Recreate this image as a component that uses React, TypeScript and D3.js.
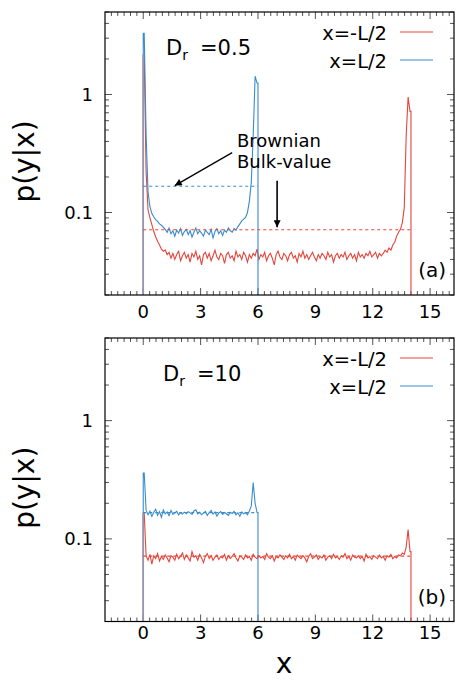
import React from "react";
import * as d3 from "d3";

// ---------- data ----------
const BIN = 0.1; // bin width; values are at bin centres 0.05, 0.15, ...
const lengthLeft = 14; // x=-L/2 curve extent
const lengthRight = 6; // x=L/2 curve extent
const bulkLeft = 0.0714;
const bulkRight = 0.1667;

// panel (a): Dr = 0.5
const redA = [
  2.16, 0.22, 0.105, 0.09, 0.079, 0.069, 0.062, 0.057, 0.053, 0.049,
  0.047, 0.048, 0.044, 0.046, 0.041,
  0.045, 0.040, 0.044, 0.047, 0.039, 0.043, 0.046, 0.041, 0.044, 0.038,
  0.045, 0.042, 0.047, 0.040, 0.043, 0.036, 0.044, 0.046, 0.041, 0.045,
  0.039, 0.043, 0.048, 0.042, 0.040, 0.045, 0.043, 0.037, 0.044, 0.046,
  0.041, 0.043, 0.039, 0.047, 0.042, 0.044, 0.040, 0.046, 0.043, 0.038,
  0.044, 0.041, 0.045, 0.043, 0.049, 0.040, 0.044, 0.042, 0.046, 0.039,
  0.043, 0.045, 0.041, 0.036, 0.044, 0.047, 0.042, 0.040, 0.045, 0.043,
  0.039, 0.044, 0.046, 0.041, 0.043, 0.038, 0.045, 0.042, 0.047, 0.041,
  0.044, 0.040, 0.043, 0.046, 0.042, 0.039, 0.044, 0.041, 0.045, 0.043,
  0.040, 0.046, 0.042, 0.044, 0.038, 0.043, 0.045, 0.041, 0.044, 0.042,
  0.046, 0.040, 0.043, 0.045, 0.041, 0.044, 0.039, 0.046, 0.042, 0.044,
  0.041, 0.045, 0.043, 0.047, 0.042, 0.044, 0.046, 0.041, 0.045, 0.043,
  0.045, 0.048, 0.046, 0.050, 0.048, 0.053, 0.056, 0.063, 0.068, 0.072,
  0.082, 0.11, 0.45, 0.95, 0.72,
];
const blueA = [
  3.3, 0.45, 0.15, 0.112, 0.098, 0.092, 0.087, 0.084, 0.080, 0.078,
  0.075,
  0.072, 0.068, 0.074, 0.066, 0.070, 0.063, 0.071, 0.067, 0.073, 0.064,
  0.069, 0.072, 0.065, 0.070, 0.062, 0.068, 0.074, 0.066, 0.070, 0.067,
  0.063, 0.071, 0.068, 0.065, 0.072, 0.061, 0.069, 0.073, 0.066, 0.070,
  0.064, 0.071, 0.068, 0.074, 0.070, 0.068, 0.073, 0.071, 0.076, 0.080,
  0.085, 0.088, 0.091, 0.10, 0.125, 0.18, 0.45, 1.43, 1.25,
];

// panel (b): Dr = 10
const redB = [
  0.165, 0.072,
  0.066, 0.074, 0.061, 0.072, 0.068, 0.075, 0.065, 0.071, 0.067, 0.073,
  0.069, 0.064, 0.072, 0.070, 0.066, 0.074, 0.068, 0.071, 0.076, 0.067,
  0.073, 0.069, 0.065, 0.078, 0.070, 0.072, 0.066, 0.074, 0.069, 0.063,
  0.071, 0.075, 0.068, 0.072, 0.066, 0.070, 0.073, 0.067, 0.071, 0.069,
  0.074, 0.066, 0.072, 0.068, 0.071, 0.075, 0.069, 0.065, 0.072, 0.070,
  0.067, 0.073, 0.069, 0.071, 0.066, 0.074, 0.070, 0.068, 0.072, 0.069,
  0.071, 0.067, 0.075, 0.070, 0.068, 0.072, 0.065, 0.071, 0.069, 0.073,
  0.070, 0.067, 0.072, 0.069, 0.074, 0.068, 0.071, 0.066, 0.073, 0.070,
  0.068, 0.072, 0.069, 0.064, 0.071, 0.075, 0.068, 0.070, 0.073, 0.067,
  0.071, 0.069, 0.073, 0.066, 0.070, 0.072, 0.068, 0.074, 0.069, 0.071,
  0.067, 0.072, 0.070, 0.075, 0.068, 0.071, 0.066, 0.073, 0.070, 0.069,
  0.072, 0.068, 0.071, 0.065, 0.074, 0.069, 0.071, 0.067, 0.072, 0.070,
  0.068, 0.073, 0.069, 0.071, 0.066, 0.072, 0.070, 0.074, 0.068, 0.071,
  0.069, 0.073, 0.072, 0.076, 0.074, 0.085, 0.12, 0.078,
];
const blueB = [
  0.36, 0.175,
  0.160, 0.172, 0.155, 0.168, 0.178, 0.158, 0.170, 0.152, 0.175, 0.163,
  0.169, 0.157, 0.174, 0.161, 0.166, 0.171, 0.159, 0.167, 0.162, 0.168,
  0.164, 0.170, 0.166, 0.161, 0.172, 0.176, 0.163, 0.168, 0.160, 0.165,
  0.171, 0.158, 0.167, 0.174, 0.162, 0.169, 0.156, 0.165, 0.170, 0.161,
  0.167, 0.163, 0.158, 0.168, 0.164, 0.171, 0.160, 0.166, 0.155, 0.169,
  0.163, 0.167, 0.160, 0.172, 0.19, 0.30, 0.20, 0.167,
];

const xMajorTicks = [0, 3, 6, 9, 12, 15];
const yMajorTicks = [0.1, 1];
const yTickLabels = ["0.1", "1"];
const legendLabels = ["x=-L/2", "x=L/2"];
const drValues = ["0.5", "10"];
const panelTags = ["(a)", "(b)"];
const annotationLines = ["Brownian", "Bulk-value"];

// ---------- styling / layout ----------
const W = 455;
const H = 685;
const FONT = "DejaVu Sans, sans-serif";
const RED = "#e6453b";
const BLUE = "#398ccb";
const OVERLAP = "#9a94b2";
const X_DOMAIN: [number, number] = [-2, 16.25];
const Y_DOMAIN: [number, number] = [0.02, 5];
const LEFT = 105;
const RIGHT = 454;

const panels = [
  { top: 12, bottom: 295, red: redA, blue: blueA, dr: drValues[0], tag: panelTags[0], drX: 166, drDx: 34, tickLabelY: 318 },
  { top: 338, bottom: 621.5, red: redB, blue: blueB, dr: drValues[1], tag: panelTags[1], drX: 163, drDx: 34, tickLabelY: 639 },
];

function buildSeries(vals: number[], len: number): [number, number][] {
  const pts: [number, number][] = [[0, Y_DOMAIN[0]], [0, vals[0]]];
  vals.forEach((v, i) => pts.push([BIN / 2 + i * BIN, v]));
  pts.push([len, vals[vals.length - 1]]);
  pts.push([len, Y_DOMAIN[0]]);
  return pts;
}

function Panel({ p, idx }: { p: (typeof panels)[number]; idx: number }) {
  const x = d3.scaleLinear().domain(X_DOMAIN).range([LEFT, RIGHT]);
  const y = d3.scaleLog().domain(Y_DOMAIN).range([p.bottom, p.top]);
  const line = d3
    .line<[number, number]>()
    .x((d) => x(d[0]))
    .y((d) => y(Math.max(d[1], Y_DOMAIN[0])));

  const redPts = buildSeries(p.red, lengthLeft);
  const bluePts = buildSeries(p.blue, lengthRight);
  const clipId = `clip-${idx}`;

  const xMinor = d3
    .range(-6, 50)
    .map((k) => k / 3)
    .filter((v) => v > X_DOMAIN[0] && v < X_DOMAIN[1] && Math.abs(v / 3 - Math.round(v / 3)) > 1e-6);
  const yMinor: number[] = [];
  for (let d = -2; d <= 0; d++) {
    for (let m = 2; m <= 9; m++) {
      const v = m * Math.pow(10, d);
      if (v >= Y_DOMAIN[0] && v <= Y_DOMAIN[1]) yMinor.push(v);
    }
  }
  const tickColor = "#555";
  const MAJ = 7;
  const MIN = 4;

  const overlapTop = Math.min(p.red[0], p.blue[0]);

  return (
    <g>
      <defs>
        <clipPath id={clipId}>
          <rect x={LEFT} y={p.top} width={RIGHT - LEFT} height={p.bottom - p.top} />
        </clipPath>
      </defs>
      {/* ticks */}
      <g stroke={tickColor} strokeWidth={1}>
        {xMajorTicks.map((t) => (
          <g key={`xM${t}`}>
            <line x1={x(t)} x2={x(t)} y1={p.bottom} y2={p.bottom - MAJ} />
            <line x1={x(t)} x2={x(t)} y1={p.top} y2={p.top + MAJ} />
          </g>
        ))}
        {xMinor.map((t, i) => (
          <g key={`xm${i}`}>
            <line x1={x(t)} x2={x(t)} y1={p.bottom} y2={p.bottom - MIN} />
            <line x1={x(t)} x2={x(t)} y1={p.top} y2={p.top + MIN} />
          </g>
        ))}
        {yMajorTicks.map((t) => (
          <g key={`yM${t}`}>
            <line x1={LEFT} x2={LEFT + MAJ} y1={y(t)} y2={y(t)} />
            <line x1={RIGHT} x2={RIGHT - MAJ} y1={y(t)} y2={y(t)} />
          </g>
        ))}
        {yMinor.map((t, i) => (
          <g key={`ym${i}`}>
            <line x1={LEFT} x2={LEFT + MIN} y1={y(t)} y2={y(t)} />
            <line x1={RIGHT} x2={RIGHT - MIN} y1={y(t)} y2={y(t)} />
          </g>
        ))}
      </g>
      {/* curves */}
      <g clipPath={`url(#${clipId})`} fill="none">
        <path d={line(redPts) || ""} stroke={RED} strokeWidth={1.1} />
        <path d={line(bluePts) || ""} stroke={BLUE} strokeWidth={1.1} />
        <line x1={x(0)} x2={x(0)} y1={y(Y_DOMAIN[0])} y2={y(overlapTop)} stroke={OVERLAP} strokeWidth={1.6} />
        <line x1={x(0)} x2={x(lengthRight)} y1={y(bulkRight)} y2={y(bulkRight)} stroke={BLUE} strokeWidth={1.1} strokeDasharray="3,3" />
        <line x1={x(0)} x2={x(lengthLeft)} y1={y(bulkLeft)} y2={y(bulkLeft)} stroke={RED} strokeWidth={1.1} strokeDasharray="3,3" />
      </g>
      {/* frame */}
      <rect x={LEFT} y={p.top} width={RIGHT - LEFT} height={p.bottom - p.top} fill="none" stroke="#000" strokeWidth={1.2} />
      {/* tick labels */}
      <g fontFamily={FONT} fontSize={18} fill="#000">
        {xMajorTicks.map((t) => (
          <text key={`xl${t}`} x={x(t)} y={p.tickLabelY} textAnchor="middle">
            {t}
          </text>
        ))}
        {yMajorTicks.map((t, i) => (
          <text key={`yl${t}`} x={93} y={y(t) + 6.5} textAnchor="end">
            {yTickLabels[i]}
          </text>
        ))}
      </g>
      {/* y label */}
      <text
        transform={`translate(34,${(p.top + p.bottom) / 2 + 8}) rotate(-90)`}
        textAnchor="middle"
        fontFamily={FONT}
        fontSize={28}
      >
        p(y|x)
      </text>
      {/* legend */}
      <g fontFamily={FONT} fontSize={19.5}>
        {[RED, BLUE].map((c, i) => (
          <g key={`lg${i}`}>
            <text x={387} y={p.top + 27.5 + i * 28} textAnchor="end">
              {legendLabels[i]}
            </text>
            <line x1={400} x2={433} y1={p.top + 20 + i * 28} y2={p.top + 20 + i * 28} stroke={c} strokeWidth={1.1} />
          </g>
        ))}
      </g>
      {/* Dr label */}
      <text x={p.drX} y={p.top + 43} fontFamily={FONT} fontSize={21}>
        D
        <tspan fontSize={14} dy={5}>
          r
        </tspan>
        <tspan x={p.drX + p.drDx} dy={-5}>
          {"=" + p.dr}
        </tspan>
      </text>
      {/* panel tag */}
      <text x={446} y={p.bottom - 18} textAnchor="end" fontFamily={FONT} fontSize={20}>
        {p.tag}
      </text>
    </g>
  );
}

export default function App() {
  const p = panels[0];
  const x = d3.scaleLinear().domain(X_DOMAIN).range([LEFT, RIGHT]);
  const y = d3.scaleLog().domain(Y_DOMAIN).range([p.bottom, p.top]);
  // annotation arrows (data coordinates)
  const arrow1 = { x1: 4.65, y1: 0.322, x2: 1.65, y2: 0.169 };
  const arrow2 = { x1: 7.0, y1: 0.186, x2: 7.0, y2: 0.075 };
  return (
    <svg
      width={W}
      height={H}
      viewBox={`0 0 ${W} ${H}`}
      style={{ position: "absolute", left: 0, top: 0, background: "#fff" }}
    >
      <defs>
        <marker id="ah" viewBox="0 0 10 10" refX={10} refY={5} markerWidth={9} markerHeight={7} markerUnits="userSpaceOnUse" orient="auto">
          <path d="M0,0 L10,5 L0,10 z" fill="#000" />
        </marker>
      </defs>
      <rect x={0} y={0} width={W} height={H} fill="#fff" />
      {panels.map((pp, i) => (
        <Panel key={i} p={pp} idx={i} />
      ))}
      {/* annotation in panel (a) */}
      <g fontFamily={FONT} fontSize={18}>
        <text x={237} y={147}>{annotationLines[0]}</text>
        <text x={237} y={168}>{annotationLines[1]}</text>
      </g>
      <line x1={x(arrow1.x1)} y1={y(arrow1.y1)} x2={x(arrow1.x2)} y2={y(arrow1.y2)} stroke="#000" strokeWidth={1.3} markerEnd="url(#ah)" />
      <line x1={x(arrow2.x1)} y1={y(arrow2.y1)} x2={x(arrow2.x2)} y2={y(arrow2.y2)} stroke="#000" strokeWidth={1.6} markerEnd="url(#ah)" />
      {/* x label */}
      <text x={284} y={673} textAnchor="middle" fontFamily={FONT} fontSize={28}>
        x
      </text>
    </svg>
  );
}
